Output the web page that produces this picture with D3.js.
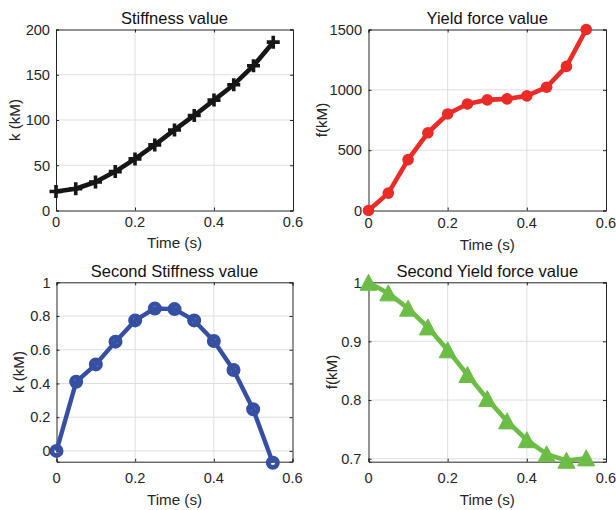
<!DOCTYPE html>
<html>
<head>
<meta charset="utf-8">
<script src="https://cdn.jsdelivr.net/npm/d3@7"></script>
<style>
  html, body { margin: 0; padding: 0; background: #fff; }
  svg { display: block; }
  text { font-family: "Liberation Sans", Arial, Helvetica, sans-serif; fill: #262626; }
</style>
</head>
<body>
<svg id="chart" width="616" height="510"></svg>
<script>
// Sample times (s)
const time = [0, 0.05, 0.10, 0.15, 0.20, 0.25, 0.30, 0.35, 0.40, 0.45, 0.50, 0.55];

// Series values
const stiffness       = [21, 24, 31.5, 43, 57, 72.5, 89, 105, 122, 139, 160, 186];
const yieldForce      = [0, 144, 422, 644, 800, 883, 917, 925, 950, 1022, 1194, 1500];
const secondStiffness = [0, 0.41, 0.513, 0.648, 0.774, 0.845, 0.841, 0.774, 0.652, 0.48, 0.247, -0.07];
const secondYield     = [1.0, 0.982, 0.956, 0.924, 0.885, 0.843, 0.802, 0.764, 0.732, 0.708, 0.697, 0.701];

// Tick values
const xTicks        = [0, 0.2, 0.4, 0.6];
const stiffTicks    = [0, 50, 100, 150, 200];
const yieldTicks    = [0, 500, 1000, 1500];
const stiff2Ticks   = [0, 0.2, 0.4, 0.6, 0.8, 1];
const yield2Ticks   = [0.7, 0.8, 0.9, 1];

// Titles and labels
const titles  = ["Stiffness value", "Yield force value", "Second Stiffness value", "Second Yield force value"];
const xLabel  = "Time (s)";
const yLabels = ["k (kM)", "f(kM)", "k (kM)", "f(kM)"];

const svg = d3.select("#chart");
const ink = "#262626";
const gridColor = "#dedede";
const tickFont = 14.6;
const labelFont = 15.2;
const titleFont = 16.5;

const panels = [
  { box: [56, 29.5, 293, 210.5], ydom: [0, 200], yticks: stiffTicks, values: stiffness,
    title: titles[0], ylabel: yLabels[0], color: "#161616", width: 4.6, marker: "plus",
    tickBase: 226.5, xlabBase: 248, ylabX: 14.5, ytickEnd: 50, titleBase: 24 },
  { box: [368.5, 29.5, 606, 210.5], ydom: [0, 1500], yticks: yieldTicks, values: yieldForce,
    title: titles[1], ylabel: yLabels[1], color: "#ec2a26", width: 4.6, marker: "dot",
    tickBase: 227.5, xlabBase: 249.5, ylabX: 321.5, ytickEnd: 362, titleBase: 24 },
  { box: [56.5, 282.3, 292.5, 461.7], ydom: [-0.064, 1], yticks: stiff2Ticks, values: secondStiffness,
    title: titles[2], ylabel: yLabels[2], color: "#3550a2", width: 4.4, marker: "ring",
    tickBase: 483, xlabBase: 505, ylabX: 18.5, ytickEnd: 50.5, titleBase: 277 },
  { box: [368.5, 282.3, 606, 461.7], ydom: [0.695, 1.0005], yticks: yield2Ticks, values: secondYield,
    title: titles[3], ylabel: yLabels[3], color: "#6cbd45", width: 4.6, marker: "tri",
    tickBase: 483, xlabBase: 504.5, ylabX: 332, ytickEnd: 361.5, titleBase: 277 }
];

panels.forEach(p => {
  const [x0, y0, x1, y1] = p.box;
  const x = d3.scaleLinear().domain([0, 0.6]).range([x0, x1]);
  const y = d3.scaleLinear().domain(p.ydom).range([y1, y0]);
  const g = svg.append("g");

  // grid
  g.append("g").selectAll("line").data(xTicks.filter(t => t > 0 && t < 0.6)).join("line")
    .attr("x1", d => x(d)).attr("x2", d => x(d)).attr("y1", y0).attr("y2", y1)
    .attr("stroke", gridColor).attr("stroke-width", 1);
  g.append("g").selectAll("line").data(p.yticks.filter(t => y(t) > y0 + 0.5 && y(t) < y1 - 0.5)).join("line")
    .attr("x1", x0).attr("x2", x1).attr("y1", d => y(d)).attr("y2", d => y(d))
    .attr("stroke", gridColor).attr("stroke-width", 1);

  // axes via d3 axis generators (inward ticks, labels positioned separately)
  const bottom = d3.axisBottom(x).tickValues(xTicks).tickSize(-3).tickFormat("");
  const top = d3.axisTop(x).tickValues(xTicks).tickSize(-3).tickFormat("");
  const left = d3.axisLeft(y).tickValues(p.yticks).tickSize(-3).tickFormat("");
  const right = d3.axisRight(y).tickValues(p.yticks).tickSize(-3).tickFormat("");
  [[bottom, `translate(0,${y1})`], [top, `translate(0,${y0})`],
   [left, `translate(${x0},0)`], [right, `translate(${x1},0)`]].forEach(([ax, tr]) => {
    const a = g.append("g").attr("transform", tr).call(ax);
    a.selectAll("path.domain").attr("stroke", ink).attr("stroke-width", 1);
    a.selectAll(".tick line").attr("stroke", ink);
    a.selectAll(".tick text").remove();
  });

  // x tick labels
  g.append("g").selectAll("text").data(xTicks).join("text")
    .attr("x", d => x(d)).attr("y", p.tickBase)
    .attr("text-anchor", "middle").attr("font-size", tickFont)
    .text(d => d3.format("~g")(d));

  // y tick labels
  g.append("g").selectAll("text").data(p.yticks).join("text")
    .attr("x", p.ytickEnd).attr("y", d => y(d)).attr("dy", "0.36em")
    .attr("text-anchor", "end").attr("font-size", tickFont)
    .text(d => d3.format("~g")(d));

  // titles and axis labels
  g.append("text").attr("x", (x0 + x1) / 2).attr("y", p.titleBase)
    .attr("text-anchor", "middle").attr("font-size", titleFont)
    .style("fill", "#111").text(p.title);
  g.append("text").attr("x", (x0 + x1) / 2).attr("y", p.xlabBase)
    .attr("text-anchor", "middle").attr("font-size", labelFont).text(xLabel);
  g.append("text")
    .attr("transform", `translate(${p.ylabX},${(y0 + y1) / 2}) rotate(-90)`)
    .attr("dy", "0.35em").attr("text-anchor", "middle").attr("font-size", labelFont)
    .text(p.ylabel);

  // series line
  const pts = time.map((t, i) => [t, p.values[i]]);
  g.append("path").datum(pts)
    .attr("d", d3.line().x(d => x(d[0])).y(d => y(d[1])))
    .attr("fill", "none").attr("stroke", p.color)
    .attr("stroke-width", p.width).attr("stroke-linejoin", "round");

  // markers
  const mk = g.append("g").selectAll("g").data(pts).join("g")
    .attr("transform", d => `translate(${x(d[0])},${y(d[1])})`);
  if (p.marker === "plus") {
    mk.append("path").attr("d", "M-6.5,0H6.5M0,-6.5V6.5")
      .attr("stroke", p.color).attr("stroke-width", 3.6);
  } else if (p.marker === "dot") {
    mk.append("circle").attr("r", 5.8).attr("fill", p.color);
  } else if (p.marker === "ring") {
    mk.append("circle").attr("r", 4.6).attr("fill", "none")
      .attr("stroke", p.color).attr("stroke-width", 4.8);
  } else if (p.marker === "tri") {
    mk.append("path").attr("d", "M0,-8.3L8.5,7.7L-8.5,7.7Z")
      .attr("fill", p.color).attr("stroke", p.color).attr("stroke-width", 1)
      .attr("stroke-linejoin", "round");
  }
});
</script>
</body>
</html>
